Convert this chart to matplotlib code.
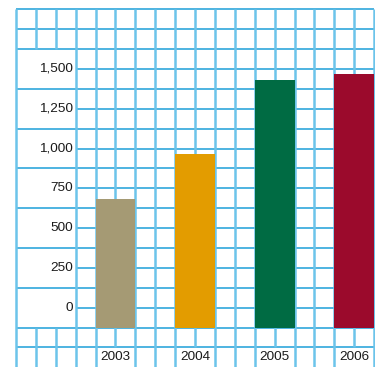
import numpy as np
import matplotlib.pyplot as plt

plt.rcParams['font.family'] = ['Liberation Sans', 'DejaVu Sans']

years = ['2003', '2004', '2005', '2006']
values = [684, 967, 1432, 1470]
colors = ['#a59a74', '#e39c00', '#006b43', '#9b0a2c']
yticks = [0, 250, 500, 750, 1000, 1250, 1500]

# grid cell = 125 units tall, 1 unit wide; bars span 2 cells
base = -125
step = 125
hline_c = '#1c9fd8'
vline_c = '#6cc4ea'

fig = plt.figure(figsize=(3.75, 3.67), dpi=100)
ax = fig.add_axes([0, 0, 1, 1])
ax.set_xlim(-16 / 19.9, 359 / 19.9)
ax.set_ylim(-372.5, 1933)
ax.axis('off')

top = 1875
bottom = -372.5

# horizontal lines
for y in [1875, 1750, 1625, -125, -250]:
    ax.hlines(y, 0, 18, color=hline_c, lw=1.1, zorder=2)
for y in np.arange(0, 1501, step):
    ax.hlines(y, 3, 18, color=hline_c, lw=1.1, zorder=2)
for y in [1375, 1125, 875, 625, 375, 125]:
    ax.hlines(y, 0, 3, color=hline_c, lw=1.1, zorder=2)

# vertical lines
for x in [0, 3]:
    ax.vlines(x, bottom, top, color=vline_c, lw=1.8, zorder=2)
for x in [1, 2]:
    ax.vlines(x, 1625, top, color=vline_c, lw=1.8, zorder=2)
    ax.vlines(x, bottom, -125, color=vline_c, lw=1.8, zorder=2)
for x in range(4, 19):
    if x in (5, 9, 13, 17):
        ax.vlines(x, -250, top, color=vline_c, lw=1.8, zorder=2)
    else:
        ax.vlines(x, bottom, top, color=vline_c, lw=1.8, zorder=2)

# bars
xpos = [5, 9, 13, 17]
ax.bar(xpos, [v - base for v in values], bottom=base, width=2,
       color=colors, zorder=3)

for v in yticks:
    ax.text(2.86, v, f'{v:,}', ha='right', va='center', fontsize=9.7,
            color='#1a1a1a')
for x, yr in zip(xpos, years):
    ax.text(x, -311, yr, ha='center', va='center', fontsize=9.7,
            color='#1a1a1a')

fig.savefig('out.png', dpi=100)
